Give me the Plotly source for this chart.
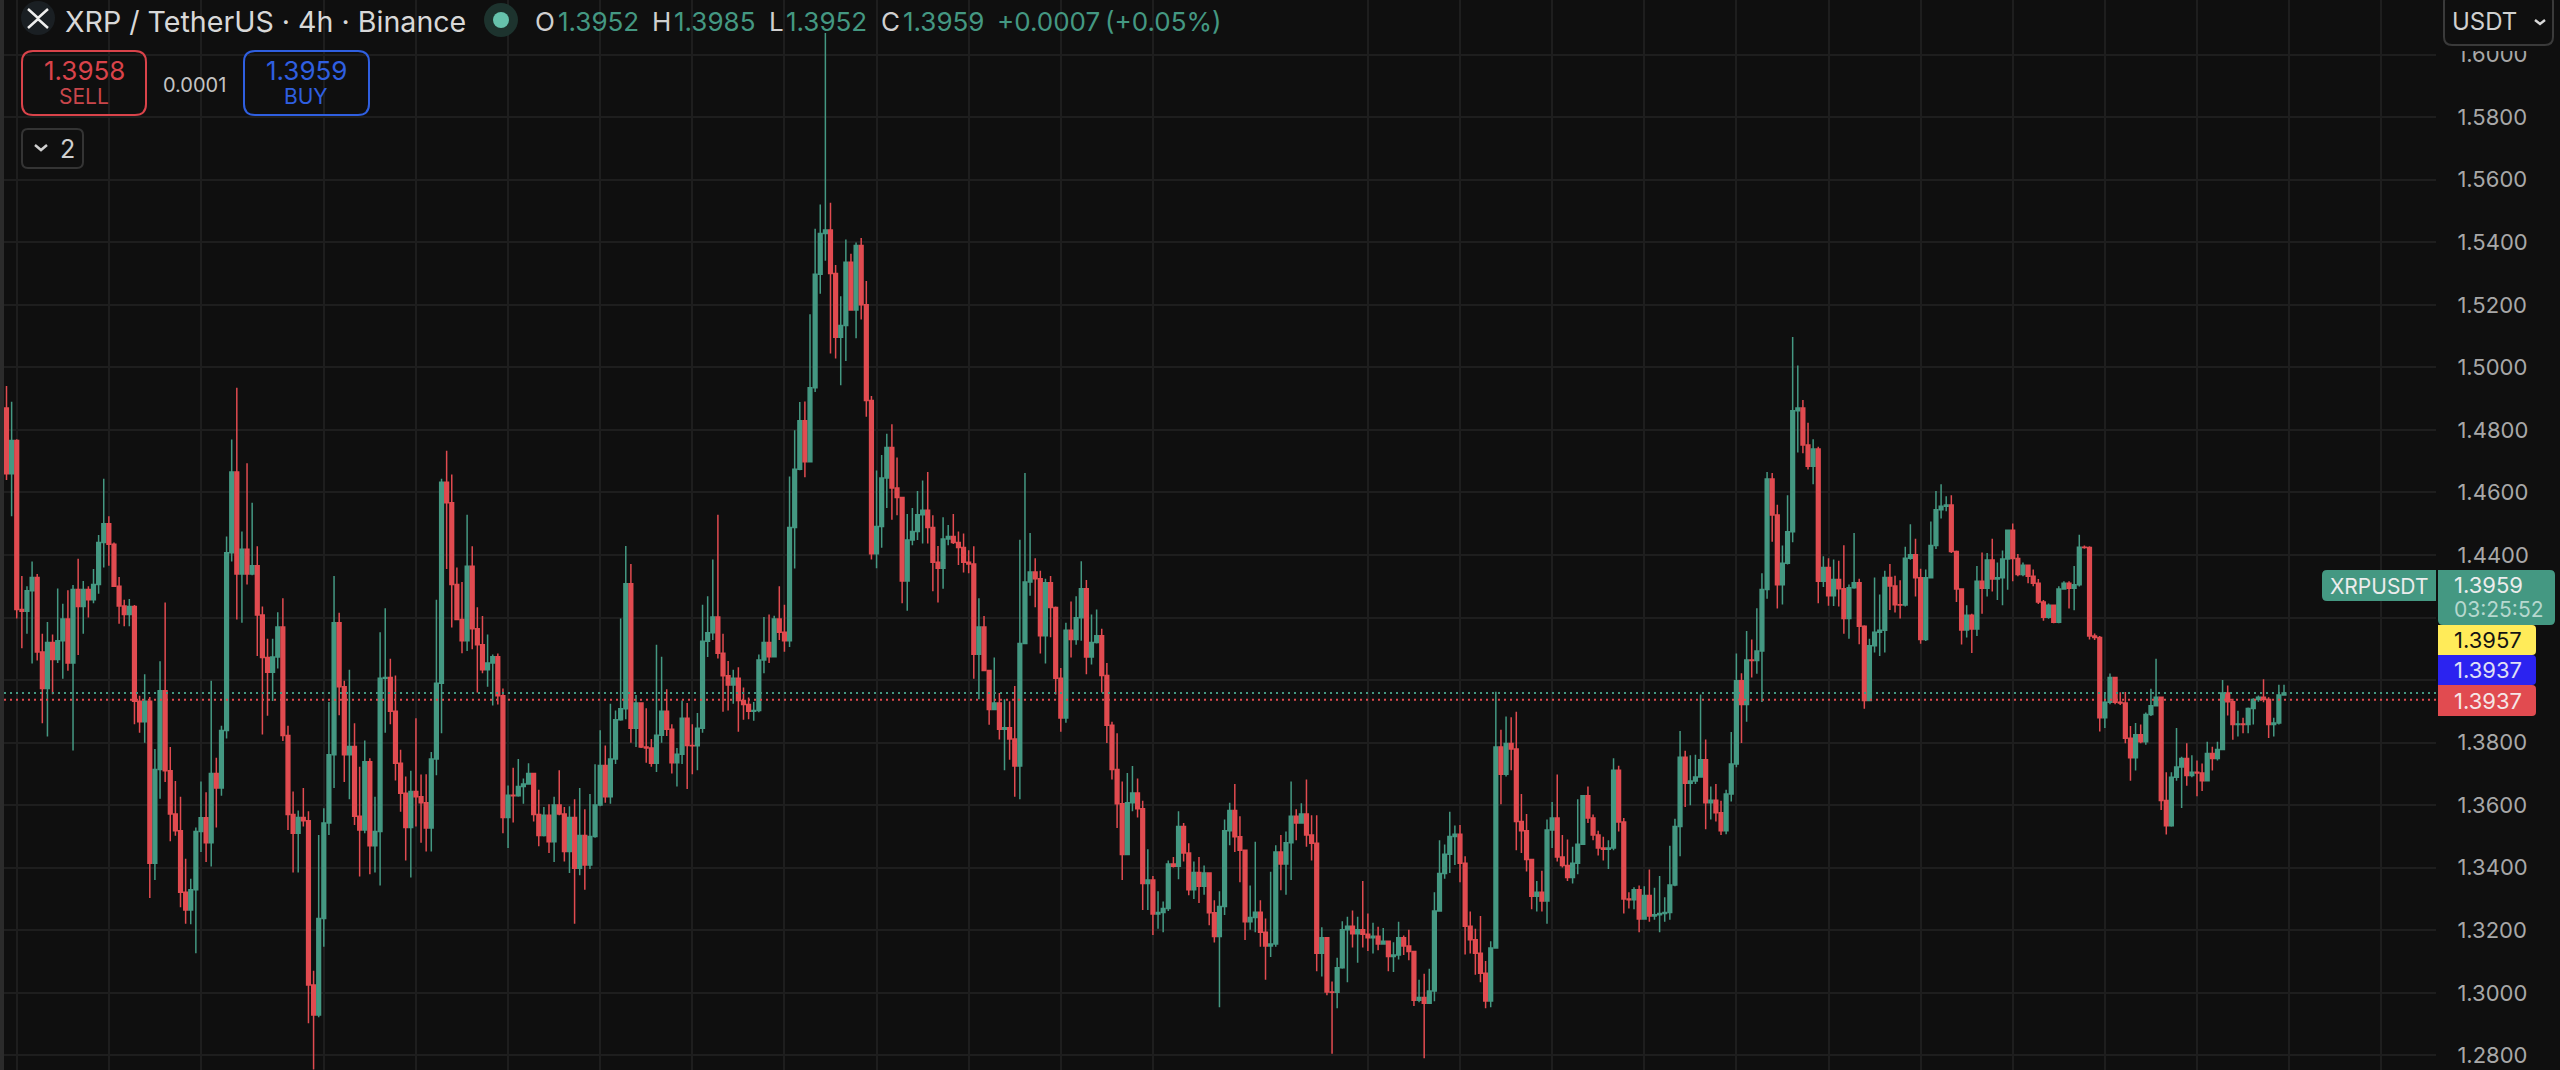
import plotly.graph_objects as go

close = [
1.466,1.4766,1.4226,1.422,1.4286,1.4328,1.409,1.3973,1.412,1.4066,
1.4126,1.4195,1.4055,1.429,1.4235,1.429,1.4257,1.4306,1.444,1.450,
1.4434,1.430,1.4237,1.421,1.4235,1.3932,1.3867,1.3932,1.3414,1.3714,
1.3966,1.371,1.3572,1.3518,1.3322,1.3265,1.333,1.3516,1.356,1.348,
1.3701,1.3655,1.3839,1.4407,1.4665,1.4339,1.4418,1.4339,1.4366,1.4208,
1.4072,1.4025,1.4074,1.417,1.3823,1.357,1.351,1.3561,1.355,1.3025,
1.2929,1.3238,1.3543,1.3761,1.4183,1.3979,1.3761,1.3788,1.3565,1.3521,
1.3739,1.347,1.3516,1.4006,1.4008,1.39,1.3734,1.3638,1.3529,1.3644,
1.3627,1.3608,1.3527,1.3748,1.399,1.4633,1.4567,1.4306,1.4194,1.4126,
1.4364,1.4164,1.4113,1.4033,1.4055,1.4075,1.395,1.3561,1.3632,1.363,
1.366,1.3668,1.3701,1.357,1.3503,1.3568,1.3483,1.3601,1.3572,1.3452,
1.3561,1.3398,1.3503,1.3409,1.35,1.3601,1.3727,1.3627,1.3748,1.3873,
1.3908,1.4308,1.3846,1.3927,1.3786,1.3783,1.3734,1.3824,1.39,1.3843,
1.3736,1.3763,1.3878,1.3791,1.379,1.3846,1.4124,1.4151,1.4202,1.4086,
1.4014,1.3984,1.4006,1.3935,1.3922,1.39,1.3903,1.4064,1.412,1.4075,
1.4195,1.4153,1.4126,1.4488,1.4674,1.4829,1.4698,1.4935,1.5298,1.5428,
1.5439,1.53,1.5096,1.5134,1.5336,1.5183,1.539,1.52,1.4894,1.4404,
1.4491,1.4646,1.4744,1.4614,1.4584,1.4317,1.4448,1.4475,1.4529,1.4543,
1.4488,1.4377,1.4358,1.4451,1.4459,1.444,1.4424,1.4377,1.4371,1.4083,
1.417,1.4031,1.3906,1.3927,1.3843,1.3848,1.3812,1.3725,1.4117,1.4314,
1.4346,1.4324,1.4142,1.4311,1.4232,1.4006,1.3879,1.4159,1.413,1.4199,
1.4292,1.4074,1.412,1.4142,1.4015,1.3856,1.3714,1.3605,1.3442,1.3608,
1.3639,1.3589,1.335,1.3361,1.3252,1.3257,1.327,1.3412,1.3405,1.3532,
1.3447,1.333,1.3385,1.3341,1.3383,1.3256,1.318,1.3276,1.3518,1.3583,
1.3499,1.3456,1.3227,1.3241,1.3258,1.3194,1.315,1.3156,1.345,1.3412,
1.348,1.3565,1.3543,1.3572,1.3505,1.3478,1.3127,1.3176,1.3003,1.3002,
1.308,1.3202,1.3213,1.3189,1.3202,1.3187,1.3176,1.3181,1.3156,1.3165,
1.3116,1.3121,1.3176,1.315,1.3132,1.2976,1.2985,1.2967,1.3006,1.3262,
1.3382,1.3443,1.35,1.3507,1.3414,1.3213,1.317,1.3127,1.3063,1.2974,
1.3143,1.3786,1.3699,1.3797,1.378,1.3548,1.3518,1.3426,1.3309,1.3322,
1.3294,1.3521,1.3559,1.3434,1.3407,1.3369,1.3414,1.3475,1.363,1.3559,
1.3505,1.3463,1.3459,1.3463,1.3712,1.3546,1.33,1.3298,1.333,1.3236,
1.3311,1.3246,1.325,1.3254,1.3257,1.3345,1.3532,1.3753,1.367,1.3677,
1.369,1.3745,1.3608,1.3616,1.3576,1.3518,1.3636,1.3732,1.3998,1.3922,
1.4064,1.4063,1.4093,1.429,1.4643,1.4528,1.4305,1.4374,1.4474,1.4861,
1.487,1.4752,1.4684,1.4739,1.4316,1.436,1.427,1.4322,1.4292,1.4197,
1.4295,1.4311,1.4172,1.3935,1.411,1.4153,1.4159,1.4328,1.4301,1.4241,
1.4240,1.4390,1.4401,1.4327,1.413,1.4327,1.443,1.4545,1.4556,1.456,
1.4411,1.4291,1.416,1.4207,1.4163,1.4316,1.4294,1.4384,1.4323,1.4327,
1.4387,1.4479,1.4389,1.4338,1.4367,1.4332,1.431,1.425,1.4201,1.4239,
1.4185,1.4291,1.431,1.4294,1.4305,1.4425,1.4424,1.4141,1.4136,1.388,
1.3929,1.4008,1.3929,1.3927,1.3814,1.3752,1.3825,1.3803,1.389,1.3918,
1.3945,1.3615,1.3534,1.3689,1.3722,1.3749,1.3695,1.3705,1.3703,1.3678,
1.3765,1.3749,1.3778,1.3959,1.3931,1.3858,1.386,1.3858,1.3909,1.3938,
1.3945,1.3938,1.3858,1.3863,1.3952,1.3959]

high = [
1.494,1.489,1.477,1.4333,1.430,1.4379,1.4339,1.4148,1.4186,1.4146,
1.4293,1.4244,1.4287,1.4304,1.4388,1.4317,1.43,1.4355,1.4464,1.4644,
1.4524,1.444,1.433,1.4257,1.4259,1.424,1.395,1.4019,1.3946,1.378,
1.406,1.4248,1.3786,1.3677,1.3627,1.3429,1.3365,1.3529,1.3676,1.3641,
1.3998,1.3752,1.3854,1.4459,1.4769,1.4935,1.4475,1.4693,1.4567,1.4428,
1.4235,1.4132,1.4132,1.4217,1.4262,1.3854,1.3644,1.3583,1.3655,1.3581,
1.3071,1.3505,1.359,1.393,1.4333,1.4215,1.3998,1.4033,1.3862,1.3723,
1.3807,1.375,1.3627,1.4153,1.423,1.4068,1.4015,1.3777,1.3692,1.371,
1.3878,1.3698,1.3699,1.377,1.4257,1.4644,1.4733,1.4657,1.436,1.4314,
1.4529,1.4428,1.4233,1.4205,1.4146,1.4082,1.4085,1.3973,1.3663,1.372,
1.3748,1.3685,1.3734,1.3701,1.3649,1.3594,1.3603,1.3627,1.3712,1.3594,
1.3597,1.3619,1.3655,1.3587,1.3636,1.3731,1.384,1.3791,1.3924,1.3903,
1.4197,1.4429,1.4371,1.3952,1.3927,1.391,1.3812,1.4113,1.4075,1.3971,
1.3859,1.3783,1.3935,1.3927,1.3859,1.3895,1.4241,1.4268,1.4386,1.4529,
1.4148,1.4061,1.4033,1.4041,1.3976,1.3944,1.393,1.4082,1.4202,1.421,
1.4206,1.43,1.4241,1.4651,1.4799,1.4889,1.4891,1.517,1.5443,1.5521,
1.6069,1.5526,1.5327,1.5227,1.5409,1.5363,1.5399,1.5414,1.5276,1.4908,
1.467,1.472,1.4788,1.4818,1.4712,1.4586,1.4531,1.455,1.4605,1.4638,
1.4665,1.4527,1.4429,1.4521,1.4496,1.4531,1.4475,1.4469,1.4415,1.4428,
1.4262,1.4205,1.4033,1.4072,1.3959,1.3939,1.3932,1.3981,1.4449,1.4662,
1.447,1.439,1.435,1.4324,1.4333,1.4235,1.4039,1.4183,1.4251,1.4268,
1.438,1.432,1.421,1.4226,1.4164,1.4055,1.3867,1.383,1.3676,1.3703,
1.3725,1.3685,1.3614,1.3459,1.3374,1.3325,1.3292,1.3423,1.3434,1.3581,
1.3543,1.3478,1.342,1.3434,1.3407,1.3383,1.3296,1.3325,1.3554,1.3608,
1.3668,1.3565,1.3456,1.3343,1.3483,1.3296,1.3238,1.3387,1.3472,1.3505,
1.3516,1.3676,1.3587,1.3606,1.3682,1.3568,1.3568,1.321,1.3178,1.3036,
1.3112,1.3229,1.3243,1.3263,1.3243,1.3358,1.3254,1.3224,1.3211,1.3207,
1.3167,1.3162,1.3227,1.3183,1.3202,1.3134,1.3042,1.3061,1.3077,1.3322,
1.3488,1.3474,1.3579,1.3535,1.3537,1.3437,1.326,1.3205,1.3246,1.3102,
1.3165,1.3963,1.3841,1.3884,1.3881,1.3899,1.3636,1.3572,1.3429,1.3358,
1.339,1.3554,1.361,1.3698,1.3505,1.349,1.3467,1.3619,1.3633,1.366,
1.357,1.3518,1.3499,1.3488,1.375,1.3726,1.3559,1.3322,1.3338,1.3343,
1.3341,1.3394,1.3336,1.3374,1.3306,1.347,1.3557,1.3837,1.3774,1.376,
1.3761,1.3954,1.381,1.366,1.3668,1.3614,1.3649,1.3834,1.4085,1.4022,
1.4157,1.413,1.423,1.4342,1.4665,1.4662,1.4561,1.443,1.4591,1.5097,
1.5006,1.4896,1.4823,1.477,1.4746,1.4396,1.439,1.4386,1.4382,1.4431,
1.4306,1.447,1.4324,1.4175,1.4132,1.4328,1.4274,1.435,1.4371,1.4334,
1.4319,1.4426,1.4498,1.4452,1.4356,1.4354,1.4507,1.4605,1.4626,1.4588,
1.4591,1.4414,1.4294,1.4239,1.4212,1.4365,1.4408,1.4406,1.4452,1.4376,
1.4414,1.4481,1.4501,1.4403,1.4376,1.437,1.4354,1.4323,1.4256,1.4245,
1.4239,1.43,1.4316,1.4316,1.4365,1.4465,1.4430,1.4428,1.4149,1.4141,
1.3961,1.4021,1.4008,1.3961,1.3962,1.3853,1.3863,1.3858,1.3896,1.3972,
1.4068,1.3945,1.3705,1.3705,1.3847,1.3755,1.3798,1.376,1.3743,1.3733,
1.3803,1.3787,1.3803,1.4,1.3983,1.394,1.3902,1.388,1.3912,1.3942,
1.3951,1.4003,1.3945,1.388,1.3985,1.3985]

low = [
1.464,1.4524,1.4197,1.4102,1.4148,1.4053,1.4063,1.3862,1.382,1.3955,
1.4055,1.4004,1.403,1.3775,1.408,1.4148,1.42,1.4246,1.4276,1.436,
1.4366,1.43,1.418,1.4172,1.4172,1.3859,1.3832,1.38,1.3303,1.3361,
1.3621,1.3674,1.3485,1.3502,1.3274,1.3221,1.3219,1.3127,1.345,1.3418,
1.3404,1.3529,1.363,1.3813,1.4379,1.4194,1.4183,1.4306,1.4335,1.4077,
1.3826,1.3886,1.3933,1.4037,1.3805,1.3521,1.3385,1.3385,1.3532,1.2903,
1.2755,1.2922,1.3147,1.3505,1.3655,1.3888,1.3674,1.3619,1.3537,1.3372,
1.351,1.3379,1.3385,1.3343,1.3832,1.3859,1.3679,1.3579,1.3423,1.3369,
1.3532,1.348,1.3452,1.3452,1.3696,1.383,1.4355,1.4168,1.4191,1.4086,
1.4093,1.4099,1.396,1.4022,1.3979,1.3919,1.3922,1.351,1.3463,1.3545,
1.3627,1.3605,1.3666,1.3548,1.3469,1.35,1.3447,1.3418,1.3568,1.342,
1.3383,1.3221,1.3376,1.333,1.3396,1.3496,1.3597,1.3608,1.3605,1.3732,
1.387,1.3875,1.38,1.3786,1.3783,1.3736,1.3723,1.3706,1.38,1.3821,
1.3701,1.366,1.3732,1.3652,1.3699,1.3712,1.3832,1.4074,1.4128,1.4069,
1.3899,1.3903,1.3924,1.3835,1.3873,1.3875,1.387,1.3897,1.4022,1.4055,
1.4074,1.4128,1.4091,1.4106,1.4357,1.4671,1.4649,1.4698,1.4921,1.5235,
1.5341,1.5044,1.5028,1.4943,1.502,1.5181,1.5093,1.5153,1.4842,1.4386,
1.4358,1.4423,1.455,1.4513,1.4527,1.4246,1.4222,1.4431,1.4448,1.4437,
1.4437,1.4284,1.4248,1.4292,1.4431,1.4435,1.4368,1.4344,1.4342,1.4004,
1.3939,1.4028,1.3857,1.3906,1.381,1.3712,1.3745,1.3627,1.3619,1.4115,
1.427,1.4233,1.4085,1.4053,1.4137,1.3954,1.3835,1.3864,1.4072,1.4113,
1.4126,1.4019,1.405,1.4117,1.396,1.3799,1.3682,1.3527,1.3361,1.344,
1.3581,1.3561,1.3265,1.3265,1.3185,1.3205,1.3194,1.3262,1.3401,1.3363,
1.342,1.3312,1.33,1.3287,1.3314,1.3216,1.3161,1.2954,1.3249,1.3472,
1.345,1.3354,1.3169,1.3202,1.3194,1.3147,1.3042,1.3115,1.3147,1.3328,
1.3314,1.3361,1.3488,1.3543,1.3467,1.3423,1.3069,1.3052,1.2992,1.2805,
1.2951,1.3077,1.3034,1.3145,1.3096,1.3145,1.3134,1.3126,1.3136,1.3156,
1.3069,1.3067,1.3107,1.3121,1.3104,1.2958,1.297,1.2791,1.2965,1.2973,
1.3263,1.3365,1.3383,1.3409,1.3354,1.3123,1.3126,1.3058,1.3034,1.2951,
1.2954,1.3142,1.3603,1.3692,1.3712,1.3456,1.3447,1.3388,1.3267,1.326,
1.326,1.3221,1.3463,1.342,1.3401,1.3358,1.335,1.3379,1.3474,1.3543,
1.3488,1.3439,1.3423,1.3396,1.3456,1.3516,1.3254,1.327,1.3267,1.3194,
1.3234,1.3227,1.3234,1.3194,1.3227,1.3234,1.3341,1.3437,1.3594,1.36,
1.3668,1.3688,1.3523,1.3554,1.3548,1.3505,1.3507,1.3612,1.3721,1.3799,
1.3867,1.4008,1.402,1.393,1.426,1.4442,1.4229,1.4242,1.437,1.4441,
1.4728,1.4725,1.4673,1.4626,1.4246,1.4298,1.4238,1.4237,1.4235,1.4148,
1.4132,1.4292,1.4115,1.3908,1.3935,1.4088,1.4077,1.4088,1.4224,1.4216,
1.4197,1.4235,1.4385,1.4267,1.4116,1.4125,1.4332,1.4419,1.4517,1.454,
1.4406,1.425,1.4114,1.4136,1.4087,1.4141,1.4212,1.4267,1.4283,1.4256,
1.4239,1.4289,1.4316,1.4332,1.4332,1.431,1.43,1.4243,1.419,1.4196,
1.4182,1.4182,1.4289,1.4229,1.4223,1.4299,1.4420,1.413,1.4128,1.3836,
1.3847,1.3923,1.3923,1.392,1.3798,1.3678,1.3711,1.3798,1.3793,1.3885,
1.3918,1.3585,1.3506,1.3531,1.3678,1.3591,1.3662,1.3689,1.3629,1.3645,
1.3676,1.3711,1.3743,1.3776,1.3887,1.3809,1.382,1.383,1.383,1.3858,
1.3931,1.3929,1.3815,1.382,1.3858,1.3952]

first_open = 1.487
opens = [first_open] + close[:-1]
bars = list(range(len(close)))

price_ticks = [1.28, 1.30, 1.32, 1.34, 1.36, 1.38, 1.40, 1.42, 1.44, 1.46, 1.48,
               1.50, 1.52, 1.54, 1.56, 1.58, 1.60]
time_grid = [2, 20, 38, 62, 80, 98, 116, 134, 152, 170, 188, 206, 224, 266, 284,
             302, 320, 338, 356, 374, 392, 410, 428, 446, 464]
last_price = 1.3959
other_price = 1.3937

BG = "#0f0f0f"
GRID = "#1e1e1e"
TEAL = "#449882"
RED = "#E14B50"
BLUE = "#2F5FE0"
FONT = "Inter"
W, H = 2560, 1070
L, R = 4, 2436


def fx(px):
    return (px - L) / (R - L)


def fy(py):
    return 1 - py / H


def rrect(x0, y0, x1, y1, r=6, corners="tl tr br bl"):
    rs = {c: (r if c in corners.split() else 0) for c in ["tl", "tr", "br", "bl"]}
    p = (f"M {fx(x0 + rs['tl'])} {fy(y0)} L {fx(x1 - rs['tr'])} {fy(y0)} "
         f"Q {fx(x1)} {fy(y0)} {fx(x1)} {fy(y0 + rs['tr'])} "
         f"L {fx(x1)} {fy(y1 - rs['br'])} Q {fx(x1)} {fy(y1)} {fx(x1 - rs['br'])} {fy(y1)} "
         f"L {fx(x0 + rs['bl'])} {fy(y1)} Q {fx(x0)} {fy(y1)} {fx(x0)} {fy(y1 - rs['bl'])} "
         f"L {fx(x0)} {fy(y0 + rs['tl'])} Q {fx(x0)} {fy(y0)} {fx(x0 + rs['tl'])} {fy(y0)} Z")
    return p


shapes = []
annos = []


def box(x0, y0, x1, y1, r=6, fill=None, line=None, lw=0, corners="tl tr br bl"):
    shapes.append(dict(type="path", xref="paper", yref="paper", layer="above",
                       path=rrect(x0, y0, x1, y1, r, corners),
                       fillcolor=fill or "rgba(0,0,0,0)",
                       line=dict(color=line or "rgba(0,0,0,0)", width=lw)))


def poly(points, color, lw):
    p = "M " + " L ".join(f"{fx(a)} {fy(b)}" for a, b in points)
    shapes.append(dict(type="path", xref="paper", yref="paper", layer="above", path=p,
                       line=dict(color=color, width=lw)))


def dot(cx, cy, r, fill):
    shapes.append(dict(type="circle", xref="paper", yref="paper", layer="above",
                       x0=fx(cx - r), x1=fx(cx + r), y0=fy(cy + r), y1=fy(cy - r),
                       fillcolor=fill, line=dict(width=0)))


def text(s, x, y, size, color, anchor="left"):
    annos.append(dict(text=s, x=fx(x), y=fy(y), xref="paper", yref="paper", showarrow=False,
                      xanchor=anchor, yanchor="middle", borderpad=0,
                      font=dict(family=FONT, size=size, color=color)))


# left strip
shapes.append(dict(type="rect", xref="paper", yref="paper", layer="above",
                   x0=fx(0), x1=fx(4), y0=0, y1=1, fillcolor="#2b2b2b", line=dict(width=0)))

# last-price dotted lines
for p, c in [(last_price, TEAL), (other_price, RED)]:
    shapes.append(dict(type="line", xref="paper", yref="y", layer="above", x0=0, x1=1, y0=p, y1=p,
                       line=dict(color=c, width=2, dash="2px,4px")))

# mask top of the price scale, currency selector
shapes.append(dict(type="rect", xref="paper", yref="paper", layer="above",
                   x0=fx(2437), x1=fx(2560), y0=fy(51), y1=1, fillcolor=BG, line=dict(width=0)))
box(2444, -6, 2553, 45, r=8, line="#3a3a3a", lw=2)
text("USDT", 2451, 21, 24, "#d0d0d0")
poly([(2535, 20), (2540, 24), (2545, 20)], "#d8d8d8", 2.5)

# symbol icon and title
dot(38, 18, 17, "#1a1f23")
poly([(28, 9), (38, 18), (48, 9)], "#efefef", 2.5)
poly([(28, 28), (38, 19), (48, 28)], "#efefef", 2.5)
text("XRP / TetherUS · 4h · Binance", 64, 21, 28.6, "#d8d8d8")
dot(501, 20, 17, "#1d332e")
dot(501, 20, 8, "#66C2AC")

# OHLC legend
legend = [("O", 534, "#d0d0d0"), ("1.3952", 557, TEAL), ("H", 651, "#d0d0d0"), ("1.3985", 673, TEAL),
          ("L", 768, "#d0d0d0"), ("1.3952", 785, TEAL), ("C", 880, "#d0d0d0"), ("1.3959", 902, TEAL),
          ("+0.0007", 996, TEAL), ("(+0.05%)", 1104, TEAL)]
for s, x, c in legend:
    text(s, x, 21, 26, c)

# order buttons
box(22, 51, 146, 115, r=11, line="#D9434A", lw=2)
text("1.3958", 84, 70, 26, "#D9434A", "center")
text("SELL", 84, 97, 21, "#C9464B", "center")
text("0.0001", 194, 85, 20, "#c4c4c4", "center")
box(244, 51, 369, 115, r=11, line=BLUE, lw=2)
text("1.3959", 306, 70, 26, BLUE, "center")
text("BUY", 306, 97, 21, BLUE, "center")
box(22, 129, 83, 168, r=6, line="#343434", lw=2)
poly([(35, 145), (41, 150), (47, 145)], "#d0d0d0", 2.5)
text("2", 67, 149, 25, "#d0d0d0", "center")

# price tags on the scale
box(2322, 570, 2436, 601, r=5, fill=TEAL, corners="tl bl")
text("XRPUSDT", 2379, 586, 21, "#ececec", "center")
box(2438, 570, 2555, 625, r=5, fill=TEAL, corners="tr br bl")
text("1.3959", 2453, 585, 22, "#ececec")
text("03:25:52", 2453, 609, 21, "#b7d8cf")
box(2438, 625, 2536, 655, r=4, fill="#FFEB59", corners="tr br")
text("1.3957", 2453, 640, 22, "#141414")
box(2438, 655, 2536, 685, r=4, fill="#2B23F0", corners="tr br")
text("1.3937", 2453, 670, 22, "#e0e0f5")
box(2438, 685, 2536, 716, r=4, fill=RED, corners="tr br")
text("1.3937", 2453, 701, 22, "#f5e6e6")

fig = go.Figure(go.Candlestick(
    x=bars, open=opens, high=high, low=low, close=close,
    increasing=dict(line=dict(color=TEAL, width=1.5), fillcolor=TEAL),
    decreasing=dict(line=dict(color=RED, width=1.5), fillcolor=RED),
    whiskerwidth=0, hoverinfo="skip", showlegend=False))

fig.update_layout(
    width=W, height=H, autosize=False,
    margin=dict(l=L, r=W - R, t=0, b=0, pad=0),
    paper_bgcolor=BG, plot_bgcolor=BG,
    boxgap=0.28, boxgroupgap=0,
    showlegend=False,
    shapes=shapes, annotations=annos,
    xaxis=dict(range=[-0.488, 474.7], rangeslider=dict(visible=False), showticklabels=False,
               tickmode="array", tickvals=time_grid, showgrid=True, gridcolor=GRID, gridwidth=2,
               ticks="", zeroline=False, showline=False),
    yaxis=dict(range=[1.27533, 1.61746], side="right", tickmode="array", tickvals=price_ticks,
               tickformat=".4f", showgrid=True, gridcolor=GRID, gridwidth=2,
               tickfont=dict(family=FONT, size=22, color="#a8a8a8"),
               ticks="outside", ticklen=16, tickcolor=BG, tickwidth=1,
               zeroline=False, showline=False),
)

fig.write_html("out.html", config={"displayModeBar": False},
               post_script="document.body.style.margin='0';document.body.style.overflow='hidden';")
